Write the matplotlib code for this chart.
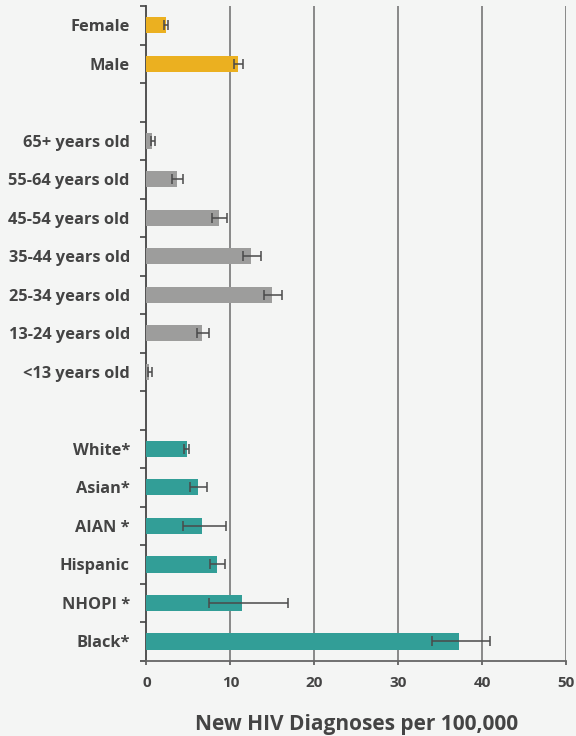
import numpy as np
import matplotlib
matplotlib.use("Agg")
import matplotlib.pyplot as plt

plt.rcParams['font.family'] = ['Open Sans', 'DejaVu Sans']

sex_labels = ["Female", "Male"]
sex_rate = [2.3, 10.9]
sex_lo = [2.1, 10.4]
sex_hi = [2.6, 11.5]

age_labels = ["65+ years old", "55-64 years old", "45-54 years old", "35-44 years old",
              "25-34 years old", "13-24 years old", "<13 years old"]
age_rate = [0.7, 3.6, 8.7, 12.5, 15.0, 6.6, 0.35]
age_lo = [0.5, 3.1, 7.8, 11.5, 14.0, 6.0, 0.2]
age_hi = [1.0, 4.3, 9.6, 13.6, 16.2, 7.4, 0.65]

race_labels = ["White*", "Asian*", "AIAN *", "Hispanic", "NHOPI *", "Black*"]
race_rate = [4.8, 6.1, 6.6, 8.4, 11.4, 37.3]
race_lo = [4.5, 5.2, 4.4, 7.6, 7.4, 34.0]
race_hi = [5.1, 7.2, 9.5, 9.4, 16.9, 41.0]

x_ticks = [0, 10, 20, 30, 40, 50]
x_title = "New HIV Diagnoses per 100,000"

GOLD = "#EBB020"
GRAY = "#9D9D9C"
TEAL = "#329E97"
TXT = "#444444"
BG = "#F4F5F4"

fig = plt.figure(figsize=(5.76, 7.36), dpi=100, facecolor=BG)
ax = fig.add_axes([0.2543, 0.1023, 0.7283, 0.8895], facecolor=BG)

groups = [(sex_labels, sex_rate, sex_lo, sex_hi, GOLD),
          (age_labels, age_rate, age_lo, age_hi, GRAY),
          (race_labels, race_rate, race_lo, race_hi, TEAL)]

pos = 0
ypos, ylabs = [], []
for labs, rate, lo, hi, col in groups:
    y = np.arange(pos, pos + len(labs))
    rate = np.array(rate)
    err = np.vstack([rate - np.array(lo), np.array(hi) - rate])
    ax.barh(y, rate, height=0.42, color=col, zorder=3)
    ax.errorbar(rate, y, xerr=err, fmt='none', ecolor="#4a4a4a",
                elinewidth=1.1, capsize=3.6, capthick=1.1, zorder=4)
    ypos += list(y)
    ylabs += labs
    pos += len(labs) + 1

n = pos - 1
ax.set_ylim(n - 0.5, -0.5)
ax.set_xlim(0, 50)

ax.set_yticks(ypos)
ax.set_yticklabels(ylabs, fontsize=11.8, fontweight='bold', color=TXT)
ax.set_yticks(np.arange(-0.5, n, 1.0), minor=True)
ax.tick_params(axis='y', which='major', length=0, pad=12)
ax.tick_params(axis='y', which='minor', length=4, width=1.2, color="#444444")

ax.set_xticks(x_ticks)
ax.set_xticklabels([str(v) for v in x_ticks], fontsize=11, fontweight='bold', color=TXT)
ax.tick_params(axis='x', length=3, width=1.2, color="#555555", pad=8)
ax.set_xlabel(x_title, fontsize=15, fontweight='bold', color=TXT, labelpad=17)

for v in x_ticks[1:]:
    ax.axvline(v, color="#808080", lw=1.3, zorder=1)

for s in ['top', 'right']:
    ax.spines[s].set_visible(False)
ax.spines['left'].set_color("#444444")
ax.spines['left'].set_linewidth(1.3)
ax.spines['bottom'].set_color("#666666")
ax.spines['bottom'].set_linewidth(1.3)

fig.savefig("out.png", dpi=100, facecolor=BG)
